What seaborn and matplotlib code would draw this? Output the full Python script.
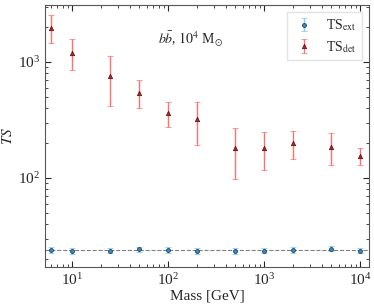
import numpy as np
import seaborn as sns
import matplotlib.pyplot as plt

mass = [6, 10, 25, 50, 100, 200, 500, 1000, 2000, 5000, 10000]

ts_det = [1960, 1200, 757, 541, 363, 323, 182, 182, 200, 185, 155]
ts_det_hi = [2540, 1580, 1127, 700, 452, 452, 270, 249, 254, 244, 182]
ts_det_lo = [1460, 853, 417, 400, 275, 192, 98, 117, 146, 129, 129]

ts_ext = [24.0, 23.4, 23.6, 24.2, 24.0, 23.5, 23.4, 23.6, 23.9, 24.6, 23.6]
ts_ext_err = [1.3, 1.3, 1.3, 1.3, 1.3, 1.3, 1.3, 1.3, 1.3, 1.3, 1.3]
ts_ext_mean = 23.7

sns.set_style("ticks")
plt.rcParams['font.family'] = ['Liberation Serif', 'DejaVu Serif']
plt.rcParams['mathtext.fontset'] = 'stix'

fig, ax = plt.subplots(figsize=(3.74, 3.05), dpi=100)

det_err = [np.array(ts_det) - np.array(ts_det_lo), np.array(ts_det_hi) - np.array(ts_det)]

ax.errorbar(mass, ts_ext, yerr=ts_ext_err, fmt='o', ms=2.8, mfc='#3b8bc2', mec='#1f3f5f',
            mew=0.6, ecolor='#87cefa', elinewidth=1.0, capsize=2.5, label=r'TS$_{\rm ext}$', zorder=3)
ax.errorbar(mass, ts_det, yerr=det_err, fmt='^', ms=3.2, mfc='#c01010', mec='#3a0a0a',
            mew=0.5, ecolor='#ff6060', elinewidth=1.0, capsize=2.5, alpha=0.9,
            label=r'TS$_{\rm det}$', zorder=3)
ax.axhline(ts_ext_mean, color='gray', ls='--', lw=0.8, zorder=2)

ax.set_xscale('log')
ax.set_yscale('log')
ax.set_xlim(5.2, 12400)
ax.set_ylim(17.1, 3100)

ax.tick_params(which='both', direction='in', top=True, right=True, labelsize=11)
ax.tick_params(which='major', length=4)
ax.tick_params(which='minor', length=2)
for s in ax.spines.values():
    s.set_color('#555555')

ax.set_xlabel('Mass [GeV]', fontsize=11, labelpad=1)
ax.set_ylabel(r'$TS$', fontsize=11, labelpad=2)

ax.text(0.35, 0.85, r'$b\bar{b}$, $10^4$ M$_{\odot}$', transform=ax.transAxes, fontsize=10)

ax.legend(loc='upper right', fontsize=10, frameon=True, fancybox=False, edgecolor='#dddddd',
          handletextpad=0.8, borderpad=0.4, labelspacing=0.4, handlelength=1.6)

fig.subplots_adjust(left=0.12, right=0.987, top=0.984, bottom=0.125)
fig.savefig('out.png', dpi=100)
